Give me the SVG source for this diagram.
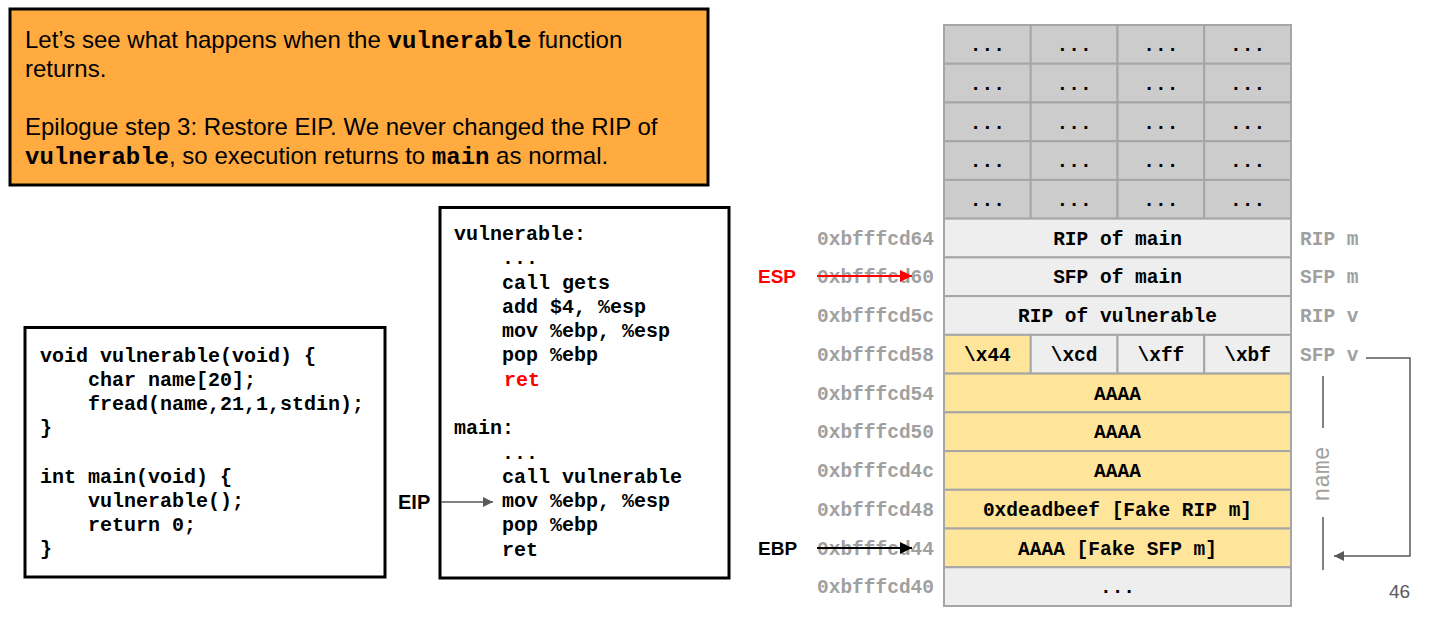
<svg xmlns="http://www.w3.org/2000/svg" width="1437" height="624" viewBox="0 0 1437 624">
<defs>
<style>
.sans{font-family:"Liberation Sans",Arial,sans-serif}
.mono{font-family:"Liberation Mono","Courier New",monospace;font-weight:bold}
.code{font-family:"Liberation Mono","Courier New",monospace;font-weight:bold;font-size:20px;fill:#000}
.addr{font-family:"Liberation Mono","Courier New",monospace;font-weight:bold;font-size:19.5px;fill:#a0a0a0}
.cell{font-family:"Liberation Mono","Courier New",monospace;font-weight:bold;font-size:19.5px;fill:#000;text-anchor:middle}
.g{fill:#cccccc;stroke:#a6a6a6;stroke-width:2}
.l{fill:#eeeeee;stroke:#a6a6a6;stroke-width:2}
.y{fill:#ffe599;stroke:#a6a6a6;stroke-width:2}
.box{fill:#fff;stroke:#000;stroke-width:3}
</style>
<marker id="ag" viewBox="0 0 10 10" refX="10" refY="5" markerWidth="14" markerHeight="10" markerUnits="userSpaceOnUse" orient="auto"><path d="M0,0L10,5L0,10z" fill="#595959"/></marker>
<marker id="ar" viewBox="0 0 10 10" refX="10" refY="5" markerWidth="14" markerHeight="12" markerUnits="userSpaceOnUse" orient="auto"><path d="M0,0L10,5L0,10z" fill="#ff0000"/></marker>
<marker id="ab" viewBox="0 0 10 10" refX="10" refY="5" markerWidth="14" markerHeight="12" markerUnits="userSpaceOnUse" orient="auto"><path d="M0,0L10,5L0,10z" fill="#000"/></marker>
</defs>
<rect width="1437" height="624" fill="#fff"/>

<g id="intro">
<rect x="10" y="9" width="698" height="176" fill="#ffab40" stroke="#000" stroke-width="3"/>
<text class="sans" font-size="24" x="25" y="48">Let’s see what happens when the <tspan class="mono">vulnerable</tspan> function</text>
<text class="sans" font-size="24" x="25" y="77">returns.</text>
<text class="sans" font-size="24" x="25" y="135">Epilogue step 3: Restore EIP. We never changed the RIP of</text>
<text class="sans" font-size="24" x="25" y="164"><tspan class="mono">vulnerable</tspan>, so execution returns to <tspan class="mono">main</tspan> as normal.</text>
</g>

<g id="c-code">
<rect class="box" x="25" y="327.5" width="360" height="249.5"/>
<text class="code" xml:space="preserve"><tspan x="40" y="362">void vulnerable(void) {</tspan><tspan x="40" y="386">    char name[20];</tspan><tspan x="40" y="410">    fread(name,21,1,stdin);</tspan><tspan x="40" y="434">}</tspan><tspan x="40" y="483">int main(void) {</tspan><tspan x="40" y="507">    vulnerable();</tspan><tspan x="40" y="531">    return 0;</tspan><tspan x="40" y="555">}</tspan></text>
</g>

<g id="asm-code">
<rect class="box" x="440" y="207.5" width="289" height="370.5"/>
<text class="code" xml:space="preserve"><tspan x="454" y="240">vulnerable:</tspan><tspan x="454" y="264">    ...</tspan><tspan x="454" y="289">    call gets</tspan><tspan x="454" y="313">    add $4, %esp</tspan><tspan x="454" y="337">    mov %ebp, %esp</tspan><tspan x="454" y="361">    pop %ebp</tspan><tspan x="504" y="386" fill="#ff0000">ret</tspan><tspan x="454" y="434">main:</tspan><tspan x="454" y="459">    ...</tspan><tspan x="454" y="483">    call vulnerable</tspan><tspan x="454" y="507">    mov %ebp, %esp</tspan><tspan x="454" y="531">    pop %ebp</tspan><tspan x="454" y="556">    ret</tspan></text>
</g>

<g id="eip-label">
<text class="sans" font-size="20" font-weight="bold" x="398" y="509">EIP</text>
</g>

<g id="stack">
<g id="gray-rows">
<rect class="g" x="944" y="25" width="86.75" height="38.73"/><rect class="g" x="1030.75" y="25" width="86.75" height="38.73"/><rect class="g" x="1117.5" y="25" width="86.75" height="38.73"/><rect class="g" x="1204.25" y="25" width="86.75" height="38.73"/>
<rect class="g" x="944" y="63.73" width="86.75" height="38.73"/><rect class="g" x="1030.75" y="63.73" width="86.75" height="38.73"/><rect class="g" x="1117.5" y="63.73" width="86.75" height="38.73"/><rect class="g" x="1204.25" y="63.73" width="86.75" height="38.73"/>
<rect class="g" x="944" y="102.47" width="86.75" height="38.73"/><rect class="g" x="1030.75" y="102.47" width="86.75" height="38.73"/><rect class="g" x="1117.5" y="102.47" width="86.75" height="38.73"/><rect class="g" x="1204.25" y="102.47" width="86.75" height="38.73"/>
<rect class="g" x="944" y="141.2" width="86.75" height="38.73"/><rect class="g" x="1030.75" y="141.2" width="86.75" height="38.73"/><rect class="g" x="1117.5" y="141.2" width="86.75" height="38.73"/><rect class="g" x="1204.25" y="141.2" width="86.75" height="38.73"/>
<rect class="g" x="944" y="179.93" width="86.75" height="38.73"/><rect class="g" x="1030.75" y="179.93" width="86.75" height="38.73"/><rect class="g" x="1117.5" y="179.93" width="86.75" height="38.73"/><rect class="g" x="1204.25" y="179.93" width="86.75" height="38.73"/>
<text class="cell"><tspan x="987.4" y="51">...</tspan><tspan x="1074.1" y="51">...</tspan><tspan x="1160.9" y="51">...</tspan><tspan x="1247.6" y="51">...</tspan><tspan x="987.4" y="89.7">...</tspan><tspan x="1074.1" y="89.7">...</tspan><tspan x="1160.9" y="89.7">...</tspan><tspan x="1247.6" y="89.7">...</tspan><tspan x="987.4" y="128.5">...</tspan><tspan x="1074.1" y="128.5">...</tspan><tspan x="1160.9" y="128.5">...</tspan><tspan x="1247.6" y="128.5">...</tspan><tspan x="987.4" y="167.2">...</tspan><tspan x="1074.1" y="167.2">...</tspan><tspan x="1160.9" y="167.2">...</tspan><tspan x="1247.6" y="167.2">...</tspan><tspan x="987.4" y="205.9">...</tspan><tspan x="1074.1" y="205.9">...</tspan><tspan x="1160.9" y="205.9">...</tspan><tspan x="1247.6" y="205.9">...</tspan></text>
</g>
<g id="row-rip-main"><rect class="l" x="944" y="218.67" width="347" height="38.73"/><text class="cell" x="1117.5" y="244.7">RIP of main</text></g>
<g id="row-sfp-main"><rect class="l" x="944" y="257.4" width="347" height="38.73"/><text class="cell" x="1117.5" y="283.4">SFP of main</text></g>
<g id="row-rip-vuln"><rect class="l" x="944" y="296.13" width="347" height="38.73"/><text class="cell" x="1117.5" y="322.1">RIP of vulnerable</text></g>
<g id="row-sfp-v">
<rect class="y" x="944" y="334.87" width="86.75" height="38.73"/><rect class="l" x="1030.75" y="334.87" width="86.75" height="38.73"/><rect class="l" x="1117.5" y="334.87" width="86.75" height="38.73"/><rect class="l" x="1204.25" y="334.87" width="86.75" height="38.73"/>
<text class="cell"><tspan x="987.4" y="360.9">\x44</tspan><tspan x="1074.1" y="360.9">\xcd</tspan><tspan x="1160.9" y="360.9">\xff</tspan><tspan x="1247.6" y="360.9">\xbf</tspan></text>
</g>
<g id="row-a1"><rect class="y" x="944" y="373.6" width="347" height="38.73"/><text class="cell" x="1117.5" y="399.6">AAAA</text></g>
<g id="row-a2"><rect class="y" x="944" y="412.33" width="347" height="38.73"/><text class="cell" x="1117.5" y="438.3">AAAA</text></g>
<g id="row-a3"><rect class="y" x="944" y="451.07" width="347" height="38.73"/><text class="cell" x="1117.5" y="477.1">AAAA</text></g>
<g id="row-deadbeef"><rect class="y" x="944" y="489.8" width="347" height="38.73"/><text class="cell" x="1117.5" y="515.8">0xdeadbeef [Fake RIP m]</text></g>
<g id="row-fake-sfp"><rect class="y" x="944" y="528.53" width="347" height="38.73"/><text class="cell" x="1117.5" y="554.5">AAAA [Fake SFP m]</text></g>
<g id="row-bottom"><rect class="l" x="944" y="567.27" width="347" height="38.73"/><text class="cell" x="1117.5" y="593.3">...</text></g>
</g>

<g id="addresses">
<text class="addr"><tspan x="817" y="244.7">0xbfffcd64</tspan><tspan x="817" y="283.4">0xbfffcd60</tspan><tspan x="817" y="322.1">0xbfffcd5c</tspan><tspan x="817" y="360.9">0xbfffcd58</tspan><tspan x="817" y="399.6">0xbfffcd54</tspan><tspan x="817" y="438.3">0xbfffcd50</tspan><tspan x="817" y="477.1">0xbfffcd4c</tspan><tspan x="817" y="515.8">0xbfffcd48</tspan><tspan x="817" y="554.5">0xbfffcd44</tspan><tspan x="817" y="593.3">0xbfffcd40</tspan></text>
</g>

<g id="right-labels">
<text class="addr"><tspan x="1300" y="244.7">RIP m</tspan><tspan x="1300" y="283.4">SFP m</tspan><tspan x="1300" y="322.1">RIP v</tspan><tspan x="1300" y="360.9">SFP v</tspan></text>
<text font-family="'Liberation Mono','Courier New',monospace" font-size="23" fill="#a0a0a0" transform="translate(1329,474) rotate(-90)" text-anchor="middle">name</text>
</g>

<g id="esp-label"><text class="sans" font-size="19" font-weight="bold" fill="#ff0000" x="758" y="283">ESP</text></g>
<g id="ebp-label"><text class="sans" font-size="19" font-weight="bold" fill="#000" x="758" y="555">EBP</text></g>

<g id="page-number"><text class="sans" font-size="19" fill="#595959" x="1389" y="598">46</text></g>

<g id="connectors" fill="none">
<line x1="441" y1="502" x2="493" y2="502" stroke="#595959" stroke-width="1.5" marker-end="url(#ag)"/>
<line x1="817" y1="276" x2="912" y2="276" stroke="#ff0000" stroke-width="2" marker-end="url(#ar)"/>
<line x1="817" y1="548" x2="912" y2="548" stroke="#000" stroke-width="2" marker-end="url(#ab)"/>
<polyline points="1366,358 1410,358 1410,556 1334,556" stroke="#595959" stroke-width="1.5" marker-end="url(#ag)"/>
<line x1="1323" y1="376" x2="1323" y2="428" stroke="#595959" stroke-width="1.5"/>
<line x1="1323" y1="517" x2="1323" y2="570" stroke="#595959" stroke-width="1.5"/>
</g>
</svg>
